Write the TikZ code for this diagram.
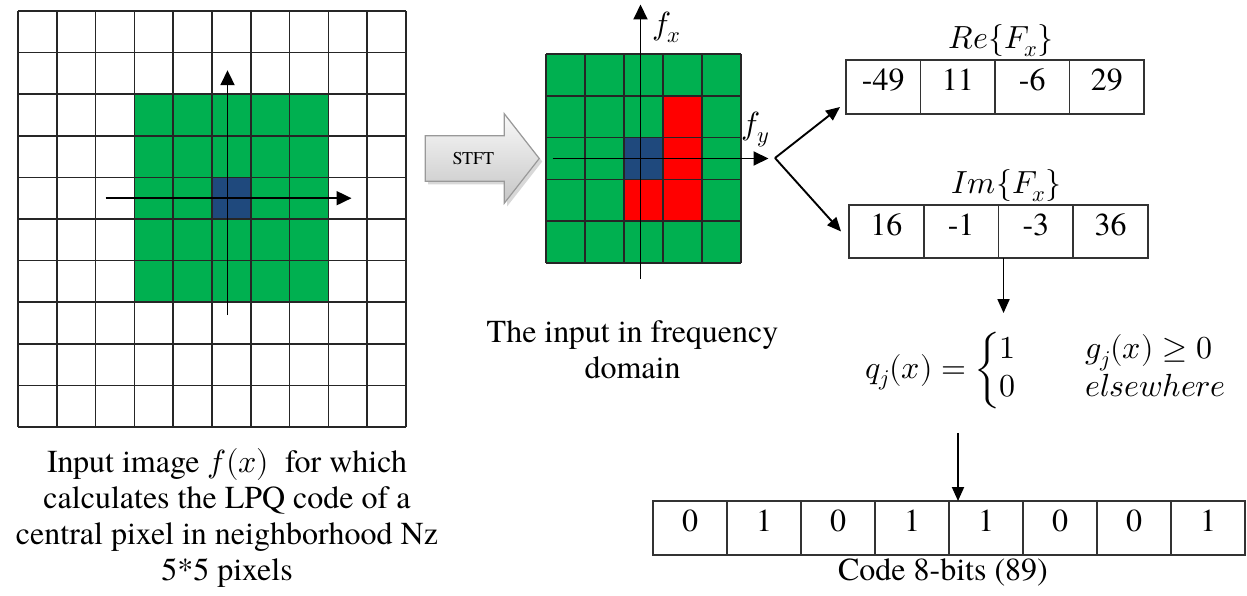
\documentclass[tikz,border=0pt]{standalone}
\usepackage{amsmath}
\usepackage{unicode-math}
\setmainfont{texgyretermes}[Extension=.otf, UprightFont=*-regular, ItalicFont=*-italic, BoldFont=*-bold, BoldItalicFont=*-bolditalic]
\setmathfont{latinmodern-math.otf}
\usepackage{tikz}
\usetikzlibrary{shapes.arrows, shadows, arrows.meta, positioning, calc}

\definecolor{pixgreen}{HTML}{00B050}
\definecolor{pixblue}{HTML}{1F497D}
\definecolor{pixred}{HTML}{FF0000}

\begin{document}
\begin{tikzpicture}[x=1pt, y=-1pt,
    font=\rmfamily\fontsize{32}{37}\selectfont,
    gridline/.style={draw=black!85, line width=1.7pt},
    axis/.style={draw, line width=1.9pt, -{Triangle[length=15pt, width=14pt]}},
    line/.style={draw, line width=1.9pt, -{Triangle[length=14pt, width=12pt]}},
    cell/.style={rectangle, draw=black!80, line width=1.6pt, outer sep=0pt, inner sep=0pt, minimum height=54pt, text depth=14pt},
    recell/.style={cell, minimum width=74.5pt},
    imcell/.style={cell, minimum width=74.75pt, minimum height=53pt},
    bit/.style={cell, minimum width=74pt},
    stftarrow/.style={single arrow, draw=gray!80, line width=1.2pt, top color=gray!5, bottom color=gray!45, minimum height=114pt, single arrow head extend=22pt, single arrow tip angle=104, inner xsep=0pt, inner ysep=16pt, font=\rmfamily\fontsize{18}{20}\selectfont, drop shadow={shadow xshift=3pt, shadow yshift=-3pt, fill=gray!60}},
    caption/.style={align=center, font=\rmfamily\fontsize{32}{36}\selectfont}
]
\useasboundingbox (0,0) rectangle (1247,596);

% Input image
\node[minimum width=388pt, minimum height=416pt, inner sep=0pt, outer sep=0pt] (img) at (212,219) {};
\fill[pixgreen] ($(img.north west)+(3*38.8,2*41.6)$) rectangle ++(5*38.8,5*41.6);
\fill[pixblue] ($(img.north west)+(5*38.8,4*41.6)$) rectangle ++(38.8,41.6);
\foreach \i in {0,...,10} {
  \draw[gridline] ($(img.north west)+(38.8*\i,0)$) -- ++(0,416);
  \draw[gridline] ($(img.north west)+(0,41.6*\i)$) -- ++(388,0);
}
\coordinate (imgc) at ($(img.north west)+(5.4*38.8,4.5*41.6)$);
\draw[axis] ($(imgc)+(0,117)$) -- ($(imgc)+(0,-128)$);
\draw[axis] ($(imgc)+(-122,0)$) -- ($(imgc)+(124,0)$);
\node[caption, below=18pt of img, xshift=15pt] (imglab) {Input image $f(x)$~ for which\\calculates the LPQ code of a\\central pixel in neighborhood Nz\\5*5 pixels};

% Frequency domain
\node[fill=pixgreen, minimum width=195pt, minimum height=209pt, inner sep=0pt, outer sep=0pt] (freq) at (643.5,158.5) {};
\fill[pixred] ($(freq.north west)+(3*39,41.8)$) rectangle ++(39,3*41.8);
\fill[pixred] ($(freq.north west)+(2*39,3*41.8)$) rectangle ++(39,41.8);
\fill[pixblue] ($(freq.north west)+(2*39,2*41.8)$) rectangle ++(39,41.8);
\foreach \i in {0,...,5} {
  \draw[gridline] ($(freq.north west)+(39*\i,0)$) -- ++(0,209);
  \draw[gridline] ($(freq.north west)+(0,41.8*\i)$) -- ++(195,0);
}
\coordinate (freqc) at ([xshift=-3pt]freq.center);
\draw[axis] ($(freqc)+(0,120)$) -- ($(freqc)+(0,-154)$);
\draw[axis] ($(freqc)+(-88,0)$) -- ($(freqc)+(128,0)$);
\node[anchor=west] (fx) at ($(freqc)+(8,-131)$) {$f_x$};
\node (fy) at ($(freqc)+(115,-29)$) {$f_y$};
\node[caption, below=54pt of freq, xshift=-11pt] (freqlab) {The input in frequency\\domain};

% STFT
\node[stftarrow, left=6pt of freq] (stft) {STFT};

% Real and imaginary parts
\node[recell] (re1) at (883.25,87) {-49};
\node[recell, right=0pt of re1] (re2) {11};
\node[recell, right=0pt of re2] (re3) {-6};
\node[recell, right=0pt of re3] (re4) {29};
\node[above=0pt of re2.north east, xshift=6pt] (relab) {$Re\{F_x\}$};

\node[imcell] (im1) at (886.4,231.5) {16};
\node[imcell, right=0pt of im1] (im2) {-1};
\node[imcell, right=0pt of im2] (im3) {-3};
\node[imcell, right=0pt of im3] (im4) {36};
\node[above=0pt of im2.north east, xshift=8pt] (imlab) {$Im\{F_x\}$};

\coordinate (split) at (775,158);
\draw[line] (split) -- ([xshift=-6pt, yshift=-20pt]re1.west);
\draw[line] (split) -- ([xshift=-8pt]im1.west);

% Quantization
\node (qj) at (1046,370) {$q_j(x)=\left\{\begin{array}{@{}l@{\hspace{70pt}}l@{}}1 & g_j(x)\geq 0\\ 0 & elsewhere\end{array}\right.$};
\coordinate (imout) at ([xshift=5pt]im3.south west);
\draw[line, shorten >=15pt] (imout) -- (imout |- qj.north);

% Code bits
\node[bit] (b1) at (690,528) {0};
\foreach \v [count=\i from 2, remember=\i as \j (initially 1)] in {1,0,1,1,0,0,1}
  \node[bit, right=0pt of b\j] (b\i) {\v};
\node[below=0pt of b4.south east, xshift=-6pt] (codelab) {Code 8-bits (89)};
\coordinate (codein) at ([xshift=9pt]b5.north west);
\draw[line, shorten <=21pt] (codein |- qj.south) -- (codein);

\end{tikzpicture}
\end{document}
